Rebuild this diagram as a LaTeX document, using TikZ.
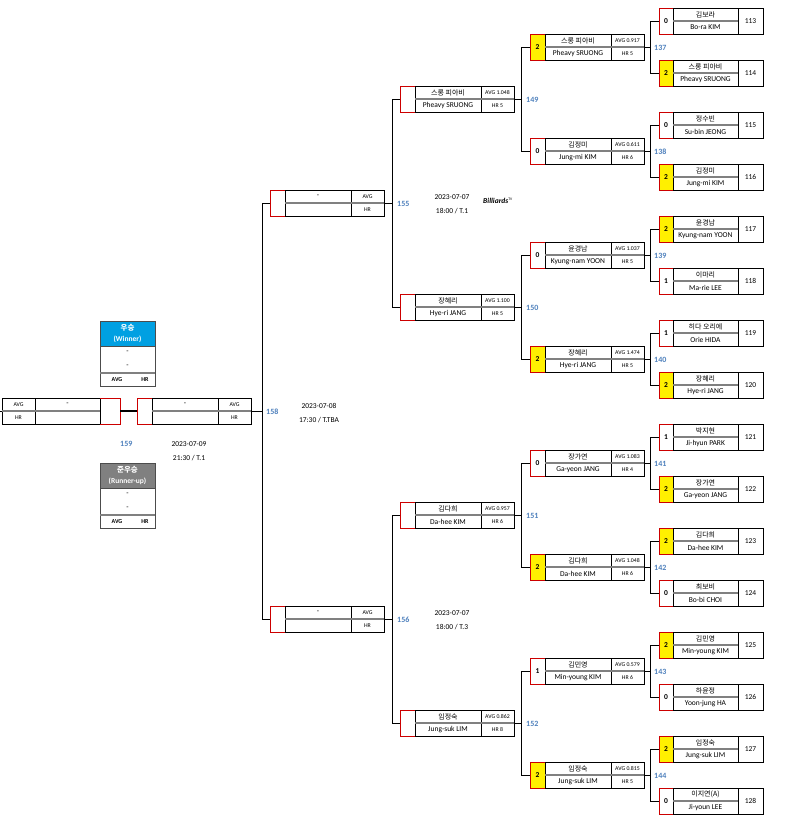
\documentclass[tikz,border=0pt]{standalone}
\usepackage{fontspec}
\setmainfont{Carlito}
\newfontfamily\ko{Noto Sans CJK KR}
\definecolor{numblue}{RGB}{79,129,189}
\definecolor{winblue}{RGB}{0,160,226}
\definecolor{ylw}{RGB}{255,240,0}
\tikzset{bk/.style={black,line width=0.8pt},
 rb/.style={red!80!black,line width=0.8pt},
 gl/.style={gray,line width=1.4pt},
 sc/.style={font=\fontsize{7.5}{8}\selectfont\bfseries,inner sep=0},
 nm/.style={font=\fontsize{7.5}{8}\selectfont,inner sep=0},
 st/.style={font=\fontsize{5.8}{6}\selectfont,inner sep=0},
 mn/.style={font=\fontsize{8}{9}\selectfont\bfseries,text=numblue,inner sep=0,anchor=west},
 dt/.style={font=\fontsize{7.5}{8}\selectfont,inner sep=0},
 cn/.style={black,line width=0.9pt}}
\newcommand\lf[6]{%
 \fill[#6] (659,#1) rectangle (673,#1+26);
 \draw[rb] (673,#1)--(659,#1)--(659,#1+26)--(673,#1+26);
 \draw[bk] (673,#1) rectangle (763,#1+26); \draw[bk] (738,#1)--(738,#1+26);
 \draw[gl] (673,#1+13)--(738,#1+13);
 \node[sc] at (666,#1+13) {#2};
 \node[nm] at (705.5,#1+6.5) {\ko\fontsize{7}{8}\selectfont #3};
 \node[nm] at (705.5,#1+19.5) {#4};
 \node[nm] at (750.5,#1+13) {#5};}
\newcommand\md[8]{%
 \fill[#8] (#1,#2-13) rectangle (#1+15,#2+13);
 \draw[rb] (#1+15,#2-13)--(#1,#2-13)--(#1,#2+13)--(#1+15,#2+13);
 \draw[bk] (#1+15,#2-13) rectangle (#1+114,#2+13); \draw[bk] (#1+81,#2-13)--(#1+81,#2+13);
 \draw[gl] (#1+15,#2)--(#1+114,#2);
 \node[sc] at (#1+7.5,#2) {#3};
 \node[nm] at (#1+48,#2-6.5) {#4};
 \node[nm] at (#1+48,#2+6.5) {#5};
 \node[st] at (#1+97.5,#2-6.5) {#6};
 \node[st] at (#1+97.5,#2+6.5) {#7};}
\begin{document}
\begin{tikzpicture}[x=1pt,y=-1pt]
\useasboundingbox[fill=white] (0,0) rectangle (793,825);
\lf{8}{0}{김보라}{Bo-ra KIM}{113}{white}
\lf{60}{2}{스롱 피아비}{Pheavy SRUONG}{114}{ylw}
\lf{112}{0}{정수빈}{Su-bin JEONG}{115}{white}
\lf{164}{2}{김정미}{Jung-mi KIM}{116}{ylw}
\lf{216}{2}{윤경남}{Kyung-nam YOON}{117}{ylw}
\lf{268}{1}{이마리}{Ma-rie LEE}{118}{white}
\lf{320}{1}{히다 오리에}{Orie HIDA}{119}{white}
\lf{372}{2}{장혜리}{Hye-ri JANG}{120}{ylw}
\lf{424}{1}{박지현}{Ji-hyun PARK}{121}{white}
\lf{476}{2}{장가연}{Ga-yeon JANG}{122}{ylw}
\lf{528}{2}{김다희}{Da-hee KIM}{123}{ylw}
\lf{580}{0}{최보비}{Bo-bi CHOI}{124}{white}
\lf{632}{2}{김민영}{Min-young KIM}{125}{ylw}
\lf{684}{0}{하윤정}{Yoon-jung HA}{126}{white}
\lf{736}{2}{임정숙}{Jung-suk LIM}{127}{ylw}
\lf{788}{0}{이지연(A)}{Ji-youn LEE}{128}{white}
\foreach \k in {0,...,7}{
 \pgfmathsetmacro\t{8+104*\k}
 \draw[cn] (659,\t+13)--(650,\t+13)|-(659,\t+65);
 \draw[cn] (644,\t+39)--(650,\t+39);
 \pgfmathtruncatemacro\n{137+\k}
 \node[mn] at (654,\t+40) {\n};}
\md{530}{47}{2}{\ko\fontsize{7}{8}\selectfont 스롱 피아비}{Pheavy SRUONG}{AVG 0.917}{HR 5}{ylw}
\md{530}{151}{0}{\ko\fontsize{7}{8}\selectfont 김정미}{Jung-mi KIM}{AVG 0.611}{HR 6}{white}
\md{530}{255}{0}{\ko\fontsize{7}{8}\selectfont 윤경남}{Kyung-nam YOON}{AVG 1.037}{HR 5}{white}
\md{530}{359}{2}{\ko\fontsize{7}{8}\selectfont 장혜리}{Hye-ri JANG}{AVG 1.474}{HR 5}{ylw}
\md{530}{463}{0}{\ko\fontsize{7}{8}\selectfont 장가연}{Ga-yeon JANG}{AVG 1.083}{HR 4}{white}
\md{530}{567}{2}{\ko\fontsize{7}{8}\selectfont 김다희}{Da-hee KIM}{AVG 1.048}{HR 6}{ylw}
\md{530}{671}{1}{\ko\fontsize{7}{8}\selectfont 김민영}{Min-young KIM}{AVG 0.579}{HR 6}{white}
\md{530}{775}{2}{\ko\fontsize{7}{8}\selectfont 임정숙}{Jung-suk LIM}{AVG 0.815}{HR 5}{ylw}
\foreach \j in {0,...,3}{
 \pgfmathsetmacro\c{47+208*\j}
 \draw[cn] (530,\c)--(521,\c)|-(530,\c+104);
 \draw[cn] (514,\c+52)--(521,\c+52);
 \pgfmathtruncatemacro\n{149+\j}
 \node[mn] at (526,\c+53) {\n};}
\md{400}{99}{}{\ko\fontsize{7}{8}\selectfont 스롱 피아비}{Pheavy SRUONG}{AVG 1.048}{HR 5}{white}
\md{400}{307}{}{\ko\fontsize{7}{8}\selectfont 장혜리}{Hye-ri JANG}{AVG 1.100}{HR 5}{white}
\md{400}{515}{}{\ko\fontsize{7}{8}\selectfont 김다희}{Da-hee KIM}{AVG 0.957}{HR 6}{white}
\md{400}{723}{}{\ko\fontsize{7}{8}\selectfont 임정숙}{Jung-suk LIM}{AVG 0.862}{HR 8}{white}
\foreach \i in {0,1}{
 \pgfmathsetmacro\c{99+416*\i}
 \draw[cn] (400,\c)--(392,\c)|-(400,\c+208);
 \draw[cn] (384,\c+104)--(392,\c+104);
 \pgfmathtruncatemacro\n{155+\i}
 \node[mn] at (397,\c+105) {\n};}
\md{270}{203}{}{-}{}{AVG}{HR}{white}
\md{270}{619}{}{-}{}{AVG}{HR}{white}
\draw[cn] (270,203)--(262,203)|-(270,619);
\md{137}{411}{}{-}{}{AVG}{HR}{white}
\draw[cn] (251,411)--(262,411);
\node[mn] at (266,412) {158};
\draw[bk] (2,398) rectangle (100,424); \draw[bk] (35,398)--(35,424);
\draw[gl] (2,411)--(100,411);
\draw[rb] (100,398)--(120,398)--(120,424)--(100,424);
\node[st] at (18.5,404.5) {AVG}; \node[st] at (18.5,417.5) {HR};
\node[nm] at (67.5,404.5) {-};
\draw[black,line width=2pt] (120,411)--(137,411);
\draw[cn] (0,411)--(2,411);
\node[mn] at (120,444) {159};
\node[dt] at (189,444) {2023-07-09}; \node[dt] at (189,458) {21:30 / T.1};
\node[dt] at (319,406) {2023-07-08}; \node[dt] at (319,420) {17:30 / T.TBA};
\node[dt] at (452,197) {2023-07-07}; \node[dt] at (452,211) {18:00 / T.1};
\node[dt] at (452,613) {2023-07-07}; \node[dt] at (452,627) {18:00 / T.3};
\node[font=\fontsize{7.5}{8}\selectfont\bfseries\itshape,inner sep=0] at (498,201) {Billiards$^{\scriptscriptstyle\mathrm{TV}}$};
\foreach \yy/\hc/\ka/\en in {321/winblue/우승/(Winner),463/gray/준우승/(Runner-up)}{
 \fill[\hc] (100,\yy) rectangle (155,\yy+25);
 \draw[black!70,line width=1pt] (100,\yy) rectangle (155,\yy+65);
 \draw[black!70,line width=0.8pt] (100,\yy+25)--(155,\yy+25);
 \node[sc,text=white] at (127.5,\yy+7) {\ko\bfseries \ka};
 \node[sc,text=white] at (127.5,\yy+18) {\en};
 \node[nm] at (127.5,\yy+31) {-};
 \node[nm] at (127.5,\yy+45) {-};
 \draw[gl] (100,\yy+52)--(155,\yy+52);
 \node[st,font=\fontsize{6}{6}\selectfont\bfseries] at (117,\yy+59) {AVG};
 \node[st,font=\fontsize{6}{6}\selectfont\bfseries] at (145,\yy+59) {HR};}
\end{tikzpicture}
\end{document}
